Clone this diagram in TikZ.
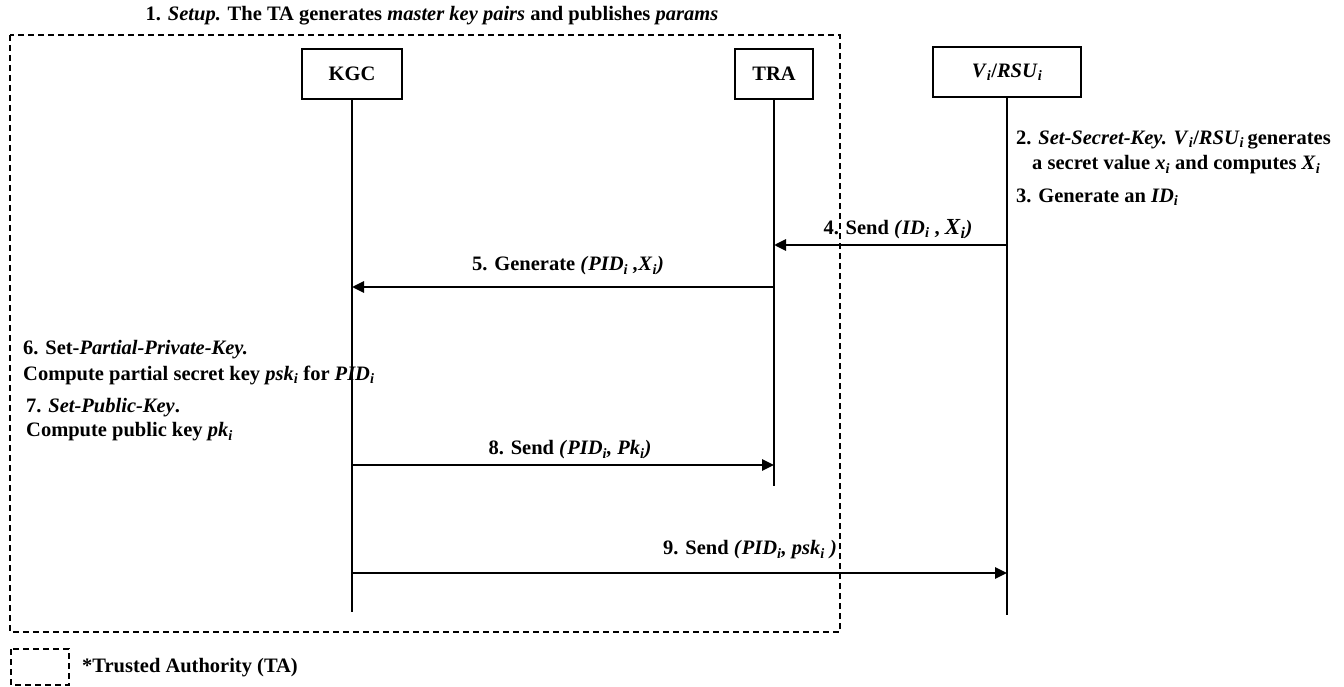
\documentclass[tikz,border=0pt]{standalone}
\usepackage{fontspec}
\setmainfont{Liberation Serif}
\usetikzlibrary{arrows.meta}
% italic symbol with italic subscript i
\newcommand{\sbi}[1]{\textit{#1}\textsubscript{\textit{i}}}
\begin{document}
\begin{tikzpicture}[x=1pt,y=-1pt,
  font=\fontsize{20.5}{24}\selectfont\bfseries,
  actor/.style={draw,line width=1.8pt,minimum width=#1,minimum height=50pt,inner sep=0pt},
  life/.style={line width=2.4pt},
  msg/.style={line width=2.8pt,-{Triangle[length=12pt,width=11pt]}},
  tabox/.style={line width=1.6pt,dash pattern=on 6pt off 4pt},
  txt/.style={inner sep=0pt,anchor=west},
  mlabel/.style={inner sep=0pt}]
\useasboundingbox (0,0) rectangle (1344,687);

% trusted authority frame
\draw[tabox] (10,35) rectangle (840,632);
\node[inner sep=0pt] (title) at (432,16) {1. \textit{Setup.} The TA generates \textit{master key pairs} and publishes \textit{params}};

% participants
\node[actor=100pt] (kgc) at (352,74) {KGC};
\node[actor=78pt] (tra) at (774,74) {TRA};
\node[actor=148pt] (veh) at (1007,72) {\sbi{V}/\sbi{RSU}};

% lifeline ends
\coordinate (kgcEnd) at (352,612);
\coordinate (traEnd) at (774,486);
\coordinate (vehEnd) at (1007,615);
\draw[life] (kgc.south) -- (kgcEnd);
\draw[life] (tra.south) -- (traEnd);
\draw[life] (veh.south) -- (vehEnd);

% message end points on the lifelines
\coordinate (v4) at (1007,245); \coordinate (t4) at (774,245);
\coordinate (t5) at (774,287); \coordinate (k5) at (352,287);
\coordinate (k8) at (352,465); \coordinate (t8) at (774,465);
\coordinate (k9) at (352,573); \coordinate (v9) at (1007,573);

\draw[msg] (v4) -- (t4);
\draw[msg] (t5) -- (k5);
\draw[msg] (k8) -- (t8);
\draw[msg] (k9) -- (v9);

% message labels
\node[mlabel] (m4) at (898,229) {4. Send \textit{(}\sbi{ID} , {\fontsize{23}{24}\selectfont\sbi{X}}\textit{)}};
\node[mlabel] (m5) at (568,266) {5. Generate \textit{(}\sbi{PID} \textit{,}\sbi{X}\textit{)}};
\node[mlabel] (m8) at (570,450) {8. Send \textit{(}\sbi{PID}\textit{,} \sbi{Pk}\textit{)}};
\node[mlabel] (m9) at (750,550) {9. Send \textit{(}\sbi{PID}\textit{,} \sbi{psk} \textit{)}};

% local steps
\node[txt] (s2a) at (1016,140) {2. \textit{Set-Secret-Key.} \sbi{V}/\sbi{RSU}\,generates};
\node[txt] (s2b) at (1032,165) {a secret value \sbi{x} and computes \sbi{X}};
\node[txt] (s3) at (1016,197) {3. Generate an \sbi{ID}};
\node[txt] (s6a) at (23,350) {6. Set-\textit{Partial-Private-Key.}};
\node[txt] (s6b) at (23,375) {Compute partial secret key \sbi{psk} for \sbi{PID}};
\node[txt] (s7a) at (26,408) {7. \textit{Set-Public-Key}.};
\node[txt] (s7b) at (26,432) {Compute public key \sbi{pk}};

% legend
\draw[tabox] (11,649) rectangle (69,685);
\node[txt] (legend) at (82,668) {*Trusted Authority (TA)};
\end{tikzpicture}
\end{document}
